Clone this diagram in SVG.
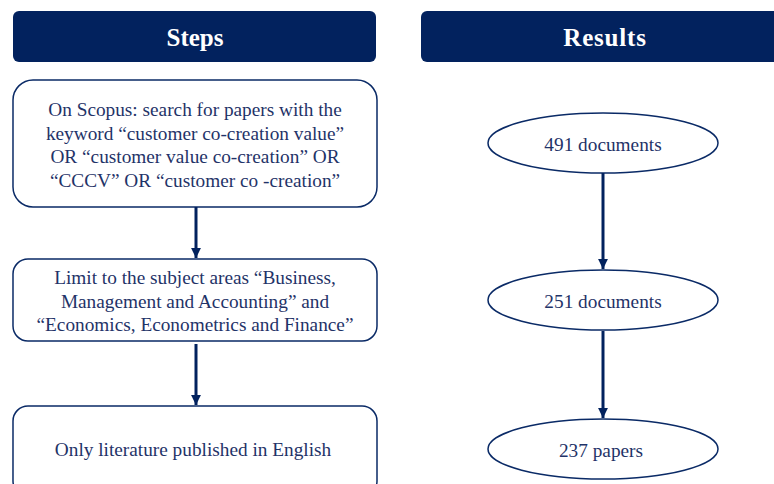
<svg xmlns="http://www.w3.org/2000/svg" width="774" height="484" viewBox="0 0 774 484">
<style>
.hdr{fill:#02225E}
.ht{fill:#fff;font-family:"Liberation Serif",serif;font-weight:bold;font-size:25px;text-anchor:middle}
.box{fill:#fff;stroke:#0A2A66;stroke-width:1.5}
.t{fill:#1F3368;font-family:"Liberation Serif",serif;font-size:19.3px;text-anchor:middle}
.c{stroke:#02225E;stroke-width:3;fill:none}
</style>
<defs>
<marker id="ah" viewBox="0 0 10 10" refX="10" refY="5" markerWidth="3.3" markerHeight="3.3" markerUnits="strokeWidth" orient="auto">
<path d="M0,0 L10,5 L0,10 z" fill="#02225E"/>
</marker>
</defs>
<rect width="774" height="484" fill="#fff"/>
<g id="steps-header"><rect class="hdr" x="13" y="11" width="363" height="51" rx="6"/><text class="ht" x="195" y="46">Steps</text></g>
<g id="results-header"><rect class="hdr" x="421" y="11" width="363" height="51" rx="6"/><text class="ht" x="605" y="46" letter-spacing="0.8">Results</text></g>
<g id="step1"><rect class="box" x="13" y="80" width="364" height="127" rx="20"/>
<text class="t" x="195" y="116">On Scopus: search for papers with the</text>
<text class="t" x="195" y="139.5">keyword “customer co-creation value”</text>
<text class="t" x="195" y="163">OR “customer value co-creation” OR</text>
<text class="t" x="195" y="186.5">“CCCV” OR “customer co  -creation”</text></g>
<g id="step2"><rect class="box" x="13" y="259" width="364" height="82" rx="15"/>
<text class="t" x="195" y="284">Limit to the subject areas “Business,</text>
<text class="t" x="195" y="307.5">Management and Accounting” and</text>
<text class="t" x="195" y="331">“Economics, Econometrics and Finance”</text></g>
<g id="step3"><rect class="box" x="13" y="406" width="364" height="90" rx="15"/>
<text class="t" x="193" y="456">Only literature  published in English</text></g>
<g id="r1"><ellipse class="box" cx="603" cy="143" rx="115" ry="30"/><text class="t" x="603" y="151">491 documents</text></g>
<g id="r2"><ellipse class="box" cx="603" cy="300" rx="115" ry="30"/><text class="t" x="603" y="308">251 documents</text></g>
<g id="r3"><ellipse class="box" cx="603" cy="449" rx="115" ry="30"/><text class="t" x="601" y="457">237 papers</text></g>
<g id="connectors">
<line class="c" x1="196" y1="207" x2="196" y2="258" marker-end="url(#ah)"/>
<line class="c" x1="196" y1="344" x2="196" y2="405" marker-end="url(#ah)"/>
<line class="c" x1="603" y1="173" x2="603" y2="269" marker-end="url(#ah)"/>
<line class="c" x1="603" y1="331" x2="603" y2="418" marker-end="url(#ah)"/>
</g>
</svg>
